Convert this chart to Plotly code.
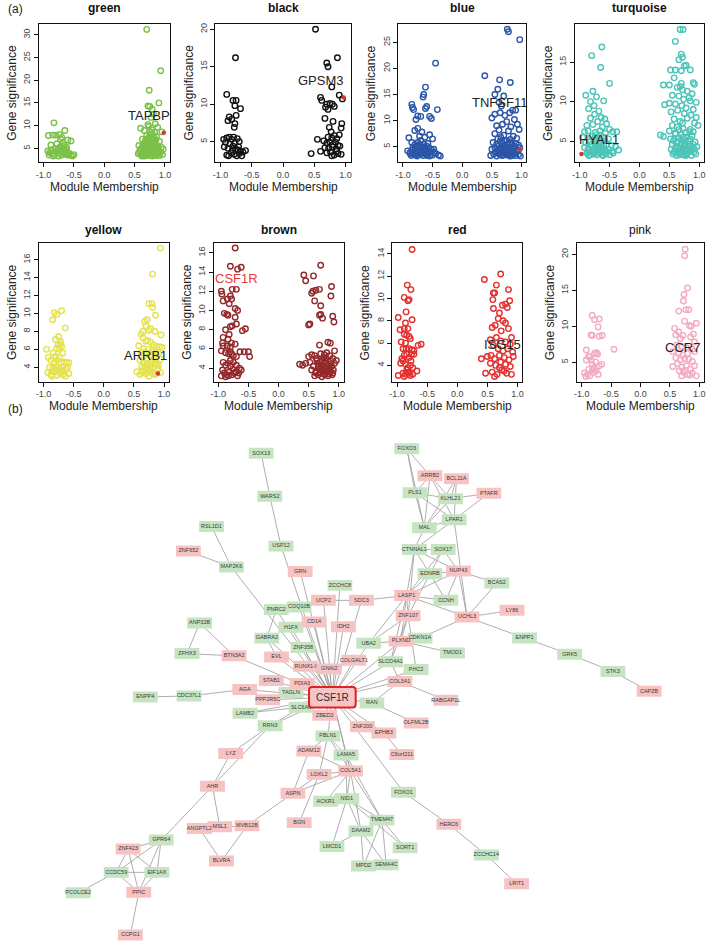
import plotly.graph_objects as go

W, H = 709, 941

# ---------------- Panel (a) data ----------------
MODULES = ["green", "black", "blue", "turquoise", "yellow", "brown", "red", "pink"]
MODULE_COLORS = ["#7cc04a", "#111111", "#2b56a8", "#4cc4b8", "#e4e24e", "#93292b", "#e3302f", "#f3abc0"]

GREEN_MM = [-0.83,-0.65,-0.92,-0.85,-0.80,-0.74,-0.70,-0.72,-0.60,-0.55,-0.88,-0.68,-0.78,-0.66,-0.62,-0.73,-0.93,-0.90,-0.86,-0.82,-0.79,-0.76,-0.71,-0.69,-0.67,-0.64,-0.61,-0.58,-0.55,-0.52,-0.50,-0.75,-0.70,-0.84,-0.91,-0.63,-0.77,-0.72,-0.68,-0.65,-0.60,-0.74,-0.81,-0.87,
            0.70,0.93,0.74,0.90,0.72,0.75,0.79,0.81,0.77,0.84,0.60,0.88,0.72,0.66,0.78,0.83,0.95,0.70,0.74,0.86,0.63,0.68,0.80,0.91,0.57,0.62,0.65,0.71,0.76,0.82,0.88,0.94,0.97,0.59,0.64,0.69,0.73,0.77,0.81,0.85,0.89,0.93,0.56,0.61,0.66,0.70,0.75,0.79,0.84,0.87,0.91,0.96,0.58,0.72,0.80,0.86,0.74,0.68,0.83,0.90,0.63,0.78,0.73,0.85,
            0.62,0.64,0.66,0.67,0.69,0.71,0.72,0.74,0.75,0.77,0.78,0.80,0.81,0.83,0.85,0.87,0.65,0.68,0.70,0.73,0.76,0.79,0.82,0.84,0.86,0.88,0.66,0.69,0.72,0.75,0.78,0.81,0.71,0.74,0.77,0.80,0.83,0.79,0.76,0.73]
GREEN_GS = [10.6,8.9,7.8,7.9,7.9,8.0,7.4,7.0,6.8,6.6,5.7,6.2,6.0,5.6,5.2,5.1,4.4,4.0,3.8,3.6,4.2,4.8,4.6,4.1,3.9,4.4,3.5,3.9,3.4,3.3,3.6,3.3,3.5,3.3,3.5,4.8,4.5,5.4,4.9,4.2,3.7,3.8,4.9,4.6,
            31.2,22.1,17.8,15.0,14.3,14.2,13.6,12.5,11.8,10.4,9.4,9.6,10.2,8.9,9.1,8.5,8.6,7.8,7.5,7.6,7.0,6.8,7.0,6.5,5.6,5.2,6.0,5.8,6.3,5.9,5.5,5.2,4.8,4.6,4.3,4.9,4.5,5.1,4.7,4.4,4.9,4.1,3.8,3.5,3.9,3.4,3.7,3.3,3.6,3.9,3.4,3.6,4.1,4.0,4.2,4.6,5.4,5.3,5.2,4.3,3.8,3.9,6.6,6.8,
            3.3,3.6,4.2,4.7,5.3,3.5,4.9,3.9,4.4,3.4,5.6,4.0,6.2,3.5,5.0,4.3,5.5,6.1,6.9,7.2,7.9,6.5,7.4,6.0,3.4,4.6,3.3,3.7,4.6,5.0,4.6,5.3,5.2,6.1,5.9,5.6,6.4,8.2,8.6,9.8]

BLACK_MM = [-0.76,-0.90,-0.80,-0.75,-0.77,-0.68,-0.86,-0.82,-0.75,-0.88,-0.77,-0.78,-0.95,-0.90,-0.86,-0.82,-0.79,-0.73,-0.70,-0.92,-0.85,-0.80,-0.76,-0.72,-0.68,-0.64,-0.60,-0.90,-0.87,-0.83,-0.78,-0.74,-0.70,-0.66,-0.88,-0.81,-0.94,-0.77,-0.71,
            0.52,0.87,0.70,0.72,0.78,0.60,0.62,0.70,0.75,0.79,0.90,0.95,0.68,0.72,0.82,0.94,0.67,0.80,0.93,0.74,0.77,0.55,0.65,0.72,0.78,0.82,0.86,0.90,0.70,0.75,0.80,0.84,0.88,0.67,0.73,0.79,0.85,0.91,0.60,0.45,0.76,0.82,0.88,0.93,0.70,0.78,0.86]
BLACK_GS = [16.2,11.3,10.5,10.5,9.8,9.4,8.3,8.0,8.5,7.8,7.4,6.9,5.3,5.5,5.6,5.3,5.6,5.4,5.0,4.9,4.7,4.4,4.0,3.9,3.7,3.6,3.8,3.2,3.1,3.5,3.3,3.1,3.4,3.1,4.1,3.9,4.3,4.8,4.3,
            20.0,16.2,15.5,15.0,12.3,10.9,10.5,10.0,10.1,10.0,11.2,10.7,9.6,9.3,9.7,7.4,8.1,7.7,6.8,6.9,6.3,5.3,5.1,5.6,5.5,5.8,5.4,5.9,4.8,4.9,4.6,4.9,4.5,4.2,4.1,4.3,4.0,4.4,3.7,3.4,3.6,3.2,3.4,3.3,3.5,3.1,3.7]

BLUE_MM = [-0.45,-0.62,-0.65,-0.66,-0.85,-0.84,-0.82,-0.60,-0.62,-0.42,-0.75,-0.70,-0.55,-0.52,-0.78,-0.80,-0.75,-0.68,-0.55,-0.90,-0.72,-0.63,-0.50,-0.85,-0.80,-0.75,-0.70,-0.65,-0.60,-0.56,-0.48,-0.92,-0.88,-0.84,-0.79,-0.74,-0.69,-0.64,-0.58,-0.53,-0.45,-0.40,-0.37,-0.86,-0.80,-0.76,-0.71,-0.66,-0.61,-0.55,-0.50,-0.73,-0.67,-0.77,-0.62,-0.83,-0.58,
           -0.88,-0.83,-0.78,-0.72,-0.68,-0.63,-0.59,-0.52,-0.47,-0.81,-0.76,-0.70,-0.66,-0.60,
           0.76,0.78,0.97,0.38,0.63,0.81,0.60,0.55,0.70,0.62,0.66,0.85,0.90,0.80,0.55,0.64,0.72,0.50,0.88,0.75,0.93,0.58,0.68,0.82,0.62,0.78,0.96,0.55,0.70,0.86,0.92,0.60,0.65,0.75,0.81,0.52,0.58,0.68,0.72,0.77,0.84,0.89,0.95,0.50,0.55,0.61,0.66,0.70,0.74,0.79,0.83,0.87,0.92,0.48,0.53,0.58,0.63,0.67,0.72,0.76,0.81,0.85,0.90,0.95,0.98,0.64,0.78,0.73,
           0.60,0.62,0.66,0.69,0.71,0.73,0.75,0.77,0.80,0.82,0.86,0.88,0.91,0.93,0.57,0.64,0.70,0.79,0.84,0.97]
BLUE_GS = [21.0,16.4,15.0,14.5,13.1,12.5,12.1,12.7,12.3,12.1,10.9,10.8,10.8,10.4,10.2,8.1,8.5,7.8,7.3,6.7,7.0,6.8,6.5,5.8,5.4,5.8,6.2,5.5,5.1,4.8,4.5,4.2,3.9,4.4,4.7,4.1,4.5,4.2,3.8,4.0,3.7,3.4,3.2,3.3,3.5,3.2,3.6,3.3,3.5,3.2,3.4,4.9,5.0,3.9,3.9,3.7,5.6,
           3.7,4.9,3.4,5.4,3.8,4.6,3.3,4.4,3.9,4.1,5.1,3.9,4.8,4.3,
           27.5,27.0,25.5,18.6,17.8,17.3,16.0,15.0,14.7,13.5,12.8,12.0,12.0,11.5,11.2,11.5,11.0,10.5,10.2,9.8,9.3,9.0,9.3,8.8,8.2,8.0,8.3,7.5,7.2,7.0,6.6,6.5,6.8,6.2,6.4,5.8,5.5,5.7,5.2,5.4,5.6,5.0,5.3,4.5,4.8,4.4,4.7,4.2,4.6,4.3,4.8,4.5,4.1,3.3,3.6,3.2,3.5,3.3,3.7,3.4,3.2,3.6,3.3,3.5,3.2,3.9,3.9,4.0,
           3.8,5.2,3.9,5.0,6.1,4.4,3.8,4.9,5.8,3.9,4.1,3.7,5.6,4.4,4.1,6.0,3.4,3.6,3.3,4.8]

TURQUOISE_MM = [-0.63,-0.80,-0.65,-0.50,-0.90,-0.78,-0.82,-0.72,-0.60,-0.76,-0.85,-0.68,-0.75,-0.64,-0.58,-0.82,-0.70,-0.55,-0.88,-0.78,-0.62,-0.50,-0.92,-0.86,-0.74,-0.66,-0.57,-0.45,-0.38,-0.95,-0.80,-0.72,-0.60,-0.52,-0.90,-0.84,-0.76,-0.68,-0.63,-0.55,-0.47,-0.40,-0.35,-0.92,-0.86,-0.80,-0.74,-0.69,-0.64,-0.58,-0.52,-0.46,-0.88,-0.82,-0.77,-0.71,-0.66,-0.61,-0.56,-0.50,-0.44,-0.79,-0.73,-0.62,-0.85,-0.67,
                -0.85,-0.80,-0.76,-0.72,-0.68,-0.64,-0.60,-0.56,-0.70,-0.74,-0.66,-0.78,-0.62,-0.58,
                0.68,0.73,0.60,0.70,0.72,0.66,0.75,0.78,0.60,0.70,0.85,0.52,0.58,0.70,0.68,0.90,0.92,0.40,0.50,0.63,0.72,0.80,0.88,0.55,0.66,0.74,0.83,0.85,0.95,0.50,0.42,0.60,0.71,0.78,0.90,0.53,0.64,0.75,0.86,0.95,0.58,0.68,0.80,0.92,0.98,0.55,0.63,0.73,0.85,0.90,0.50,0.60,0.70,0.78,0.88,0.35,0.40,0.52,0.57,0.66,0.75,0.82,0.93,0.55,0.62,0.69,0.76,0.84,0.90,0.96,0.53,0.59,0.65,0.72,0.79,0.86,0.92,0.56,0.62,0.67,0.74,0.80,0.87,0.94,0.70,0.77,0.64,
                0.58,0.61,0.64,0.67,0.70,0.73,0.76,0.79,0.82,0.85,0.88,0.91,0.60,0.66,0.72,0.78,0.84,0.69,0.75,0.81]
TURQUOISE_GS = [16.9,15.8,14.3,12.3,10.8,11.3,10.0,10.6,10.1,9.5,9.1,8.8,8.4,8.0,7.8,7.9,7.5,7.2,7.0,7.1,6.8,6.5,6.2,6.3,6.1,6.3,6.0,6.2,6.2,5.5,5.6,5.8,5.5,5.3,4.8,4.9,5.0,4.7,4.9,4.6,4.5,4.3,3.9,4.2,4.0,4.3,4.1,3.9,4.2,3.9,4.0,3.7,3.5,3.3,3.6,3.3,3.5,3.2,3.4,3.3,3.5,3.8,4.5,3.7,3.2,4.4,
                3.6,4.6,3.4,5.2,3.6,3.9,4.5,3.7,4.3,5.5,5.8,4.0,3.3,5.1,
                19.1,19.1,17.6,16.0,15.6,15.3,14.5,14.6,14.0,13.9,14.0,14.0,13.0,12.3,11.9,12.4,12.2,12.1,12.1,11.8,11.5,11.3,11.0,10.8,10.7,10.3,10.5,10.1,9.9,9.8,9.6,9.7,9.5,9.2,9.0,8.7,8.9,8.5,8.3,8.0,7.8,7.5,7.9,7.3,7.0,7.0,6.8,6.6,6.5,6.2,6.3,6.0,5.8,6.1,5.7,5.8,5.6,5.3,5.1,5.4,5.2,5.0,4.9,4.6,4.8,4.5,4.7,4.4,4.6,4.3,4.0,3.8,4.1,3.9,4.2,3.8,4.0,3.4,3.2,3.5,3.3,3.5,3.2,3.4,3.6,3.2,3.6,
                3.6,4.3,5.0,3.3,4.8,5.5,3.9,3.3,4.6,5.3,4.1,3.6,5.9,6.5,7.3,5.5,6.2,4.1,4.4,3.8]

YELLOW_MM = [-0.70,-0.82,-0.78,-0.85,-0.64,-0.80,-0.75,-0.72,-0.76,-0.72,-0.70,-0.78,-0.74,-0.68,-0.95,-0.84,-0.80,-0.74,-0.92,-0.88,-0.82,-0.77,-0.71,-0.66,-0.62,-0.58,-0.90,-0.85,-0.79,-0.74,-0.68,-0.63,-0.60,-0.93,-0.88,-0.83,-0.78,-0.73,-0.68,-0.64,-0.58,-0.86,-0.76,-0.70,-0.80,
             0.94,0.81,0.80,0.75,0.81,0.86,0.72,0.68,0.70,0.75,0.78,0.65,0.62,0.85,0.95,0.65,0.70,0.73,0.78,0.83,0.88,0.93,0.97,0.58,0.66,0.75,0.80,0.86,0.91,0.62,0.70,0.77,0.84,0.94,0.60,0.66,0.72,0.79,0.88,0.55,0.60,0.65,0.70,0.75,0.80,0.85,0.94,0.68,0.74,0.82,0.90,0.63,0.77,
             0.64,0.67,0.71,0.73,0.76,0.79,0.82,0.85,0.88,0.91,0.69,0.75,0.83]
YELLOW_GS = [10.3,10.1,9.9,9.3,8.4,7.1,7.4,6.9,6.5,6.6,6.3,6.1,6.0,5.6,6.0,5.6,5.2,5.1,5.1,4.8,4.5,4.8,4.5,4.6,4.5,4.5,4.0,3.9,4.1,3.8,4.0,3.8,4.0,3.4,3.2,3.5,3.1,3.3,3.2,3.0,3.3,3.0,3.6,3.6,3.8,
             17.3,14.4,11.1,11.1,10.7,9.8,9.3,9.1,8.6,8.1,8.3,8.0,7.7,8.0,7.6,7.3,6.9,7.0,6.8,6.5,6.3,6.3,6.2,6.4,6.1,6.0,5.8,5.6,5.5,5.6,5.4,5.3,5.0,4.9,4.8,4.6,4.4,4.6,4.3,3.5,3.2,3.6,3.3,3.0,3.5,3.2,3.4,4.0,3.8,3.9,3.8,4.1,4.1,
             3.4,4.4,3.7,4.9,3.5,5.1,3.3,4.4,5.2,4.2,5.7,4.3,5.8]

BROWN_MM = [-0.72,-0.80,-0.68,-0.62,-0.95,-0.94,-0.92,-0.85,-0.80,-0.82,-0.77,-0.70,-0.78,-0.72,-0.68,-0.90,-0.86,-0.84,-0.72,-0.70,-0.77,-0.80,-0.55,-0.60,-0.88,-0.92,-0.82,-0.84,-0.85,-0.93,-0.92,-0.78,-0.80,-0.72,-0.95,-0.88,-0.83,-0.80,-0.78,-0.75,-0.70,-0.64,-0.57,-0.50,-0.48,-0.92,-0.88,-0.84,-0.80,-0.75,-0.70,-0.65,-0.62,-0.66,-0.93,-0.90,-0.86,-0.82,-0.78,-0.73,-0.68,-0.95,-0.88,-0.83,-0.76,-0.71,-0.80,
            0.70,0.42,0.45,0.58,0.55,0.62,0.68,0.88,0.57,0.60,0.70,0.87,0.70,0.68,0.73,0.50,0.52,0.90,0.92,0.60,0.68,0.82,0.86,0.93,0.50,0.55,0.63,0.70,0.75,0.80,0.85,0.90,0.96,0.35,0.40,0.45,0.52,0.58,0.65,0.72,0.78,0.83,0.88,0.93,0.55,0.62,0.68,0.74,0.80,0.86,0.91,0.60,0.66,0.72,0.77,0.82,0.89,0.70,0.76,0.85,0.64,0.79,
            0.62,0.66,0.69,0.72,0.75,0.78,0.81,0.84,0.87,0.90,0.73,0.79,0.85,0.68,0.76]
BROWN_GS = [16.5,14.6,14.3,14.5,12.0,11.7,11.0,11.2,11.5,10.7,12.2,12.2,11.2,10.2,10.0,9.7,9.6,9.5,9.3,8.6,8.4,8.3,8.1,7.9,8.0,7.2,7.5,7.0,6.3,6.6,6.3,6.6,6.2,6.5,5.8,5.6,5.5,5.7,5.5,5.3,5.2,5.7,5.7,5.7,5.2,4.6,4.3,4.5,4.2,4.6,4.3,4.0,3.8,3.5,3.8,3.5,3.3,3.6,3.3,3.5,3.2,3.2,3.1,3.2,3.9,3.6,4.8,
            14.7,13.7,13.1,13.6,11.8,12.1,12.2,12.5,12.0,11.0,10.5,11.5,9.6,9.5,9.2,8.5,8.6,9.4,8.8,5.3,6.4,6.7,6.6,5.8,5.2,5.4,5.0,5.5,5.1,5.6,5.3,5.0,4.8,4.4,4.3,4.5,4.6,4.2,4.5,4.3,4.7,4.4,4.2,4.5,3.8,3.6,3.9,3.7,3.9,3.6,3.8,3.2,3.3,3.1,3.3,3.2,3.3,4.0,4.1,4.0,4.8,5.0,
            3.5,4.2,3.5,4.8,3.4,3.6,4.2,3.4,4.7,3.5,3.9,4.5,3.8,4.6,5.4]

RED_MM = [-0.75,-0.83,-0.77,-0.88,-0.82,-0.80,-0.85,-0.98,-0.75,-0.95,-0.88,-0.86,-0.82,-0.88,-0.80,-0.93,-0.86,-0.84,-0.78,-0.90,-0.85,-0.80,-0.75,-0.72,-0.65,-0.60,-0.92,-0.88,-0.84,-0.80,-0.76,-0.72,-0.94,-0.90,-0.86,-0.82,-0.78,-0.74,-0.67,-0.98,-0.90,-0.86,-0.82,-0.78,-0.74,-0.88,-0.84,-0.77,-0.80,
          0.45,0.72,0.65,0.60,0.62,0.85,0.87,0.59,0.75,0.80,0.83,0.60,0.70,0.68,0.76,0.80,0.63,0.58,0.73,0.85,0.90,0.65,0.55,0.72,0.80,0.88,0.60,0.68,0.76,0.84,0.92,0.50,0.56,0.62,0.70,0.78,0.86,0.93,0.40,0.55,0.64,0.72,0.80,0.88,0.47,0.58,0.66,0.74,0.82,0.90,0.62,0.78,0.70]
RED_GS = [14.4,11.2,10.8,10.1,9.8,9.9,8.8,8.3,8.1,7.2,7.3,7.8,7.3,6.8,6.6,6.1,6.0,6.7,6.4,5.5,5.5,5.5,5.4,5.3,5.8,5.9,4.6,4.9,5.0,4.7,5.0,5.0,4.2,4.4,4.1,3.8,4.0,3.8,3.5,3.1,3.3,3.2,3.4,3.1,3.2,3.0,3.6,4.4,3.3,
          11.7,12.2,11.2,10.5,10.5,10.8,9.8,9.9,9.4,9.5,9.2,9.1,8.7,8.2,8.0,7.8,7.6,7.4,7.1,7.3,6.5,6.5,6.3,6.2,6.1,5.9,5.8,5.5,5.3,5.5,5.2,4.8,4.9,4.6,4.9,4.7,4.5,4.8,4.6,4.2,4.0,4.3,4.1,3.9,3.3,3.4,3.2,3.6,3.3,3.2,3.0,3.5,3.8]

PINK_MM = [-0.82,-0.70,-0.78,-0.72,-0.84,-0.82,-0.70,-0.65,-0.45,-0.92,-0.75,-0.73,-0.78,-0.88,-0.86,-0.92,-0.84,-0.76,-0.66,-0.82,-0.70,-0.80,-0.88,-0.82,-0.78,-0.75,-0.95,-0.90,-0.86,-0.72,-0.80,-0.93,
           0.76,0.75,0.80,0.74,0.73,0.77,0.82,0.65,0.95,0.83,0.86,0.75,0.58,0.65,0.60,0.72,0.68,0.90,0.85,0.92,0.62,0.70,0.78,0.88,0.55,0.65,0.72,0.80,0.92,0.60,0.68,0.75,0.82,0.88,0.55,0.63,0.70,0.78,0.85,0.92,0.66,0.73,0.80,0.88,0.95,0.70,0.76,0.84]
PINK_GS = [11.5,11.0,10.9,9.9,8.8,8.7,8.6,8.7,6.8,6.7,6.3,6.1,6.2,5.8,5.7,5.3,5.3,5.0,4.7,4.7,4.5,4.2,4.0,3.9,4.0,3.8,3.5,3.3,3.1,3.3,3.6,3.0,
           20.7,19.8,15.3,14.4,13.5,12.3,12.3,12.1,10.4,10.1,10.0,10.7,9.7,9.2,8.8,8.7,8.3,8.9,8.5,7.8,7.4,7.2,7.0,6.8,6.5,6.3,6.0,6.2,6.5,5.6,5.3,5.5,5.4,5.1,4.4,4.8,4.3,4.5,4.0,4.5,3.8,3.6,3.3,3.5,3.1,3.1,3.9,3.2]

MM_LIST = [GREEN_MM, BLACK_MM, BLUE_MM, TURQUOISE_MM, YELLOW_MM, BROWN_MM, RED_MM, PINK_MM]
GS_LIST = [GREEN_GS, BLACK_GS, BLUE_GS, TURQUOISE_GS, YELLOW_GS, BROWN_GS, RED_GS, PINK_GS]

HUB_GENES = ["TAPBP", "GPSM3", "TNFSF11", "HYAL1", "ARRB1", "CSF1R", "ISG15", "CCR7"]
HUB_MM = [0.98, 0.97, 0.98, -0.97, 0.90, None, None, None]
HUB_GS = [8.4, 10.9, 4.4, 3.4, 3.3, None, None, None]
HUB_LABEL_MM = [0.74, 0.61, 0.62, -0.68, 0.69, -0.69, 0.75, 0.72]
HUB_LABEL_GS = [12.3, 13.1, 13.5, 5.25, 5.35, 13.3, 5.9, 7.0]
HUB_LABEL_COLOR = ["#222", "#222", "#222", "#222", "#222", "#e8393a", "#222", "#222"]

X_TICKS = [-1.0, -0.5, 0.0, 0.5, 1.0]
X_TICK_TEXT = ["-1.0", "-0.5", "0.0", "0.5", "1.0"]

# ---------------- Panel (b) network data ----------------
NODE_NAMES = ["SOX13","WARS2","RSL1D1","USP12","ZNF652","MAP2K6","GRN","ZCCHC8","UCP2","SDC3",
              "PNRC2","COQ10B","CD14","ANP32B","IDH2","H1FX","GABRA2","ZNF358","ZFHX3","BTN3A2",
              "EVL","COLGALT1","RUNX1-I","GNAI2","SLCO4A1","PHC2","STAB1","AGA","PDIA3","COL3A1",
              "TAGLN","RAN","PPP2R5C","SLC6A8","LAMB2","ZBED2","RRN3","ZNF200","EPHB3","OLFML2B",
              "FBLN1","FOXO3","ARRB2","BCL11A","PLS1","KLHL21","PTAFR","LPAR1","MAL","CTNNAL1",
              "SOX17","EDNRB","NUP43","BCAS2","LASP1","CCNH","UCHL3","LY86","ZNF107","CDKN1A",
              "PLXND","UBA2","ENPP1","TMOD1","GRK5","STK3","CAPZB","RABGAP1L","C6orf211","FOXO1",
              "HERC6","TMEM47","DAAM2","SORT1","SEMA4C","MPDZ","ZCCHC14","LRIT1","ENPP4","CDC37L1",
              "LYZ","ADAM12","LAMA5","COL5A1","LOXL2","AHR","ASPN","ACKR1","NID1","BGN",
              "MSL1","ANGPTL2","MVB12B","GPR64","ZNF423","LMCD1","BLVRA","CCDC59","EIF1AX","PPIC",
              "PCOLCE2","CCPG1","CSF1R"]
NODE_X = [260.0,268.7,210.0,280.0,186.7,230.0,299.3,339.3,322.7,361.0,
          275.2,298.2,313.3,198.0,342.8,290.0,265.7,302.2,185.3,232.7,
          275.5,353.3,304.7,328.7,390.3,416.0,270.3,243.5,301.3,399.7,
          290.0,371.5,266.7,300.3,243.7,324.0,269.0,362.0,383.5,416.0,
          327.2,406.7,430.0,456.7,415.0,450.7,489.3,454.3,424.3,414.3,
          443.3,430.0,458.7,497.3,406.5,446.0,467.3,512.7,408.0,420.0,
          400.8,368.3,525.3,452.7,570.7,614.3,650.7,446.0,401.7,403.3,
          449.0,381.7,360.5,405.0,386.0,363.0,486.7,517.3,143.3,187.3,
          229.3,308.0,345.5,350.0,318.3,211.0,292.0,325.0,346.3,298.3,
          218.3,197.7,245.7,159.3,126.0,331.3,220.0,114.0,155.0,136.7,
          75.7,128.3,331.7]
NODE_Y = [452.7,495.7,526.0,545.7,550.7,566.7,571.0,585.0,600.0,600.0,
          609.2,606.7,621.7,622.7,626.3,627.0,637.8,647.3,653.3,655.5,
          656.7,660.0,666.0,668.8,661.5,669.2,680.3,689.2,683.3,681.2,
          692.3,702.7,699.5,707.0,713.0,715.1,725.5,726.5,732.7,722.7,
          735.9,448.3,475.3,478.3,492.3,498.3,492.7,519.3,527.3,549.0,
          549.0,573.3,570.7,582.7,595.2,600.0,616.7,610.0,615.5,637.8,
          640.8,643.0,637.7,652.7,654.0,671.3,691.0,700.0,754.3,792.0,
          824.2,820.0,831.0,847.7,864.7,866.0,855.0,883.7,696.7,695.7,
          753.3,750.8,754.7,770.8,774.2,786.0,793.0,801.2,798.5,822.5,
          826.7,828.3,825.7,840.0,849.0,846.3,861.0,872.3,872.3,892.3,
          892.7,935.0,697.0]
NODE_UP = [0,0,0,0,1,0,1,0,1,1,
           0,0,1,0,1,0,0,0,0,1,
           1,1,1,1,0,0,1,1,1,1,
           0,0,1,0,0,1,0,1,1,1,
           0,0,1,1,0,0,1,0,0,0,
           0,0,1,0,1,0,1,1,1,0,
           1,0,0,0,0,0,1,1,1,0,
           1,0,0,0,0,0,0,1,0,0,
           1,1,0,1,1,1,1,0,0,1,
           1,1,1,0,1,0,1,0,0,1,
           0,1,1]

EDGES = [("SOX13","WARS2"),("WARS2","USP12"),("USP12","CSF1R"),("GRN","CSF1R"),("RSL1D1","MAP2K6"),
         ("ZNF652","MAP2K6"),("MAP2K6","CSF1R"),("ZCCHC8","CSF1R"),("UCP2","SDC3"),("UCP2","CSF1R"),
         ("SDC3","LASP1"),("SDC3","CSF1R"),("COQ10B","CSF1R"),("PNRC2","CSF1R"),("PNRC2","COQ10B"),
         ("PNRC2","GABRA2"),("CD14","CSF1R"),("IDH2","CSF1R"),("H1FX","CSF1R"),("GABRA2","CSF1R"),
         ("ZNF358","CSF1R"),("EVL","CSF1R"),("GABRA2","EVL"),("ANP32B","ZFHX3"),("ANP32B","BTN3A2"),
         ("ZFHX3","BTN3A2"),("BTN3A2","CSF1R"),("COLGALT1","CSF1R"),("RUNX1-I","CSF1R"),("GNAI2","CSF1R"),
         ("UBA2","CSF1R"),("UBA2","ZNF107"),("UBA2","PLXND"),("UBA2","LASP1"),("PLXND","LASP1"),
         ("PLXND","ZNF107"),("PLXND","CDKN1A"),("PLXND","TMOD1"),("PLXND","CSF1R"),("ZNF107","LASP1"),
         ("SLCO4A1","CSF1R"),("SLCO4A1","LASP1"),("SLCO4A1","ZNF107"),("PHC2","ZNF107"),("PHC2","CSF1R"),
         ("COL3A1","RAN"),("COL3A1","RABGAP1L"),("COL3A1","SLCO4A1"),("COL3A1","CSF1R"),("RAN","OLFML2B"),
         ("RAN","CSF1R"),("ZNF200","CSF1R"),("EPHB3","C6orf211"),("EPHB3","CSF1R"),("STAB1","CSF1R"),
         ("AGA","CSF1R"),("AGA","CDC37L1"),("CDC37L1","ENPP4"),("PDIA3","CSF1R"),("TAGLN","CSF1R"),
         ("PPP2R5C","CSF1R"),("SLC6A8","CSF1R"),("LAMB2","CSF1R"),("LAMB2","SLC6A8"),("RRN3","CSF1R"),
         ("RRN3","SLC6A8"),("RRN3","LYZ"),("RRN3","AHR"),("LYZ","AHR"),("AHR","GPR64"),
         ("AHR","MSL1"),("MVB12B","ANGPTL2"),("ANGPTL2","BLVRA"),("MVB12B","BLVRA"),("MVB12B","ASPN"),
         ("GPR64","ZNF423"),("GPR64","CCDC59"),("GPR64","EIF1AX"),("GPR64","PPIC"),("ZNF423","EIF1AX"),
         ("ZNF423","PPIC"),("ZNF423","CCDC59"),("CCDC59","EIF1AX"),("CCDC59","PPIC"),("EIF1AX","PPIC"),
         ("CCDC59","PCOLCE2"),("PPIC","CCPG1"),("ZBED2","CSF1R"),("FBLN1","CSF1R"),("FBLN1","LAMA5"),
         ("FBLN1","ADAM12"),("FBLN1","LOXL2"),("FBLN1","COL5A1"),("ADAM12","ASPN"),("ADAM12","COL5A1"),
         ("LAMA5","CSF1R"),("LAMA5","COL5A1"),("LAMA5","NID1"),("LAMA5","TMEM47"),("COL5A1","LOXL2"),
         ("COL5A1","ASPN"),("COL5A1","ACKR1"),("COL5A1","NID1"),("COL5A1","DAAM2"),("COL5A1","TMEM47"),
         ("COL5A1","CSF1R"),("LOXL2","BGN"),("LOXL2","ASPN"),("NID1","LMCD1"),("NID1","DAAM2"),
         ("NID1","TMEM47"),("NID1","SORT1"),("DAAM2","LMCD1"),("DAAM2","MPDZ"),("DAAM2","SEMA4C"),
         ("TMEM47","SORT1"),("TMEM47","SEMA4C"),("TMEM47","MPDZ"),("FOXO1","CSF1R"),("FOXO1","HERC6"),
         ("HERC6","ZCCHC14"),("ZCCHC14","LRIT1"),("FOXO3","MAL"),("FOXO3","ARRB2"),("FOXO3","PLS1"),
         ("ARRB2","PLS1"),("ARRB2","KLHL21"),("ARRB2","MAL"),("ARRB2","LPAR1"),("BCL11A","KLHL21"),
         ("BCL11A","LPAR1"),("BCL11A","MAL"),("PLS1","KLHL21"),("PLS1","LPAR1"),("PLS1","MAL"),
         ("KLHL21","PTAFR"),("KLHL21","MAL"),("LPAR1","PTAFR"),("LPAR1","MAL"),("LPAR1","CTNNAL1"),
         ("LPAR1","UCHL3"),("MAL","CTNNAL1"),("CTNNAL1","SOX17"),("CTNNAL1","EDNRB"),("CTNNAL1","NUP43"),
         ("CTNNAL1","LASP1"),("CTNNAL1","ZNF107"),("SOX17","EDNRB"),("SOX17","NUP43"),("SOX17","LASP1"),
         ("EDNRB","NUP43"),("EDNRB","LASP1"),("EDNRB","CCNH"),("EDNRB","ZNF107"),("NUP43","BCAS2"),
         ("NUP43","LASP1"),("NUP43","CCNH"),("NUP43","UCHL3"),("BCAS2","UCHL3"),("LASP1","CCNH"),
         ("LASP1","UCHL3"),("UCHL3","LY86"),("UCHL3","ENPP1"),("UCHL3","CDKN1A"),("ENPP1","GRK5"),
         ("GRK5","STK3"),("STK3","CAPZB")]
HUB_NODE = "CSF1R"

# ---------------- styling / layout constants ----------------
FONT = "Liberation Sans, Arial, Helvetica, sans-serif"
BOX_X = [(36, 168), (214, 350), (398, 527), (576, 706),
         (36, 167), (212, 343), (392, 523), (578, 706)]
ROW_Y = [(23, 161), (23, 161), (23, 161), (23, 161),
         (242, 381), (242, 381), (242, 381), (242, 381)]
Y_RANGES = [(2.0, 32.4), (2.3, 20.7), (2.1, 28.5), (2.4, 19.8),
            (2.4, 17.9), (2.6, 17.05), (2.55, 15.0), (2.3, 21.6)]
Y_DTICK = [5, 5, 5, 5, 2, 2, 2, 5]
TITLE_Y = [7, 7, 7, 7, 229, 229, 229, 229]
XTITLE_Y = [186, 186, 186, 186, 405, 405, 405, 405]
TITLE_BOLD = [True] * 7 + [False]

def fx(p):
    return p / W

def fy(p):
    return 1 - p / H

def ann(text, x, y, size, color="#222", angle=0, xref="paper", yref="paper", xanchor="center"):
    return dict(text=text, x=x, y=y, xref=xref, yref=yref, showarrow=False,
                xanchor=xanchor, yanchor="middle", textangle=angle,
                font=dict(size=size, color=color, family=FONT))

fig = go.Figure()
layout = dict(width=W, height=H, margin=dict(l=0, r=0, t=0, b=0), autosize=False,
              paper_bgcolor="white", plot_bgcolor="white", showlegend=False,
              font=dict(family=FONT, color="#222"))
annotations = []
shapes = []

for i, mod in enumerate(MODULES):
    k = i + 1
    xa = "x" if k == 1 else f"x{k}"
    ya = "y" if k == 1 else f"y{k}"
    x0, x1 = BOX_X[i]
    t, b = ROW_Y[i]
    fig.add_trace(go.Scatter(x=MM_LIST[i], y=GS_LIST[i], mode="markers", xaxis=xa, yaxis=ya,
                             marker=dict(symbol="circle-open", size=5.5, color=MODULE_COLORS[i],
                                         line=dict(width=1.4, color=MODULE_COLORS[i])),
                             hoverinfo="skip", cliponaxis=False))
    if HUB_MM[i] is not None:
        fig.add_trace(go.Scatter(x=[HUB_MM[i]], y=[HUB_GS[i]], mode="markers", xaxis=xa, yaxis=ya,
                                 marker=dict(symbol="circle", size=4.5, color="#d23b2a"),
                                 hoverinfo="skip", cliponaxis=False))
    axis_common = dict(showgrid=False, zeroline=False, showline=True, linecolor="#111",
                       linewidth=1, mirror=True, ticks="outside", ticklen=4, tickcolor="#111",
                       tickfont=dict(size=9, color="#444", family=FONT))
    layout["xaxis" if k == 1 else f"xaxis{k}"] = dict(
        axis_common, domain=[fx(x0), fx(x1)], range=[-1.08, 1.08], anchor=ya,
        tickvals=X_TICKS, ticktext=X_TICK_TEXT)
    lo, hi = Y_RANGES[i]
    layout["yaxis" if k == 1 else f"yaxis{k}"] = dict(
        axis_common, domain=[fy(b), fy(t)], range=[lo, hi], anchor=xa,
        tick0=0, dtick=Y_DTICK[i], tickangle=-90)
    cx = (x0 + x1) / 2
    annotations.append(ann(f"<b>{mod}</b>" if TITLE_BOLD[i] else mod, fx(cx), fy(TITLE_Y[i]), 12, "#111"))
    annotations.append(ann("Module Membership", fx(cx), fy(XTITLE_Y[i]), 12))
    annotations.append(ann("Gene significance", fx(x0 - 27), fy((t + b) / 2), 12, angle=-90))
    annotations.append(ann(HUB_GENES[i], HUB_LABEL_MM[i], HUB_LABEL_GS[i], 13,
                           HUB_LABEL_COLOR[i], xref=xa, yref=ya))

annotations.append(ann("(a)", fx(3), fy(8), 12, xanchor="left"))
annotations.append(ann("(b)", fx(3), fy(408), 12, xanchor="left"))

# ---------------- network ----------------
NET_TOP = 405
pos = {n: (NODE_X[j], NODE_Y[j]) for j, n in enumerate(NODE_NAMES)}
ex, ey = [], []
for a, c in EDGES:
    ex += [pos[a][0], pos[c][0], None]
    ey += [pos[a][1], pos[c][1], None]
fig.add_trace(go.Scatter(x=ex, y=ey, mode="lines", xaxis="x9", yaxis="y9",
                         line=dict(color="#9b9b9b", width=0.8), hoverinfo="skip"))

BW, BH = 25.0, 11.0
for up, fill in [(0, "#c6e4c2"), (1, "#f6c2c2")]:
    bx, by = [], []
    for j, n in enumerate(NODE_NAMES):
        if n == HUB_NODE or NODE_UP[j] != up:
            continue
        cx, cy = NODE_X[j], NODE_Y[j]
        bx += [cx - BW / 2, cx + BW / 2, cx + BW / 2, cx - BW / 2, cx - BW / 2, None]
        by += [cy - BH / 2, cy - BH / 2, cy + BH / 2, cy + BH / 2, cy - BH / 2, None]
    fig.add_trace(go.Scatter(x=bx, y=by, mode="lines", fill="toself", fillcolor=fill,
                             line=dict(width=0, color=fill), xaxis="x9", yaxis="y9",
                             hoverinfo="skip"))

lab_idx = [j for j, n in enumerate(NODE_NAMES) if n != HUB_NODE]
fig.add_trace(go.Scatter(x=[NODE_X[j] for j in lab_idx], y=[NODE_Y[j] for j in lab_idx],
                         text=[NODE_NAMES[j] for j in lab_idx], mode="text",
                         textfont=dict(size=5.5, color="#3a3a3a", family=FONT),
                         textposition="middle center", xaxis="x9", yaxis="y9",
                         hoverinfo="skip", cliponaxis=False))

hx, hy = pos[HUB_NODE]
hw, hh, r = 23.5, 10.3, 3.0
path = (f"M {hx-hw+r},{hy-hh} L {hx+hw-r},{hy-hh} Q {hx+hw},{hy-hh} {hx+hw},{hy-hh+r} "
        f"L {hx+hw},{hy+hh-r} Q {hx+hw},{hy+hh} {hx+hw-r},{hy+hh} "
        f"L {hx-hw+r},{hy+hh} Q {hx-hw},{hy+hh} {hx-hw},{hy+hh-r} "
        f"L {hx-hw},{hy-hh+r} Q {hx-hw},{hy-hh} {hx-hw+r},{hy-hh} Z")
shapes.append(dict(type="path", xref="x9", yref="y9", path=path, fillcolor="#f6c4c4",
                   line=dict(color="#de2222", width=2), layer="above"))
annotations.append(ann(HUB_NODE, hx, hy, 10, "#2a2a2a", xref="x9", yref="y9"))

layout["xaxis9"] = dict(domain=[0, 1], range=[0, W], visible=False, anchor="y9", fixedrange=True)
layout["yaxis9"] = dict(domain=[0, (H - NET_TOP) / H], range=[H, NET_TOP], visible=False,
                        anchor="x9", fixedrange=True)
layout["annotations"] = annotations
layout["shapes"] = shapes
fig.update_layout(**layout)

fig.write_html("out.html", config={"displayModeBar": False, "staticPlot": True},
               post_script="document.body.style.margin='0';document.body.style.padding='0';"
                           "document.documentElement.style.overflow='hidden';")
